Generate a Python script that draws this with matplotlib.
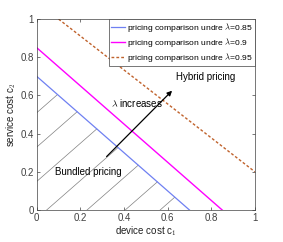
import matplotlib
matplotlib.use('Agg')
import matplotlib.pyplot as plt
import numpy as np

plt.rcParams['font.family'] = ['Liberation Sans', 'DejaVu Sans']
plt.rcParams['mathtext.fontset'] = 'cm'

# boundary lines (x endpoints, y endpoints)
blue_x = [0, 0.7]
blue_y = [0.7, 0]
mag_x = [0, 0.85]
mag_y = [0.85, 0]
brown_x = [0.1, 1]
brown_y = [1, 0.2]

# hatch lines y = x + b, ending on the blue line
hatch_b = [0.51, 0.33, 0.15, -0.045, -0.23, -0.405, -0.565]

# arrow start/end
arrow_start = (0.32, 0.28)
arrow_end = (0.62, 0.625)

ticks = [0, 0.2, 0.4, 0.6, 0.8, 1]
tick_labels = ['0', '0.2', '0.4', '0.6', '0.8', '1']

fig = plt.figure(figsize=(2.83, 2.42), dpi=100)
ax = fig.add_axes([0.13, 0.132, 0.771, 0.789])

for b in hatch_b:
    x0 = max(0, -b)
    x1 = (0.7 - b) / 2
    ax.plot([x0, x1], [x0 + b, x1 + b], color='#808080', lw=0.5)

ax.plot(blue_x, blue_y, color='#6f80f2', lw=0.9,
        label=r'pricing comparison undre $\lambda$=0.85')
ax.plot(mag_x, mag_y, color='#ff00ff', lw=1.0,
        label=r'pricing comparison undre $\lambda$=0.9')
ax.plot(brown_x, brown_y, color='#c0622c', lw=1.0, dashes=(2, 1.5),
        label=r'pricing comparison undre $\lambda$=0.95')

ax.annotate('', xy=arrow_end, xytext=arrow_start,
            arrowprops=dict(arrowstyle='-|>', color='black', lw=0.9,
                            mutation_scale=7, shrinkA=0, shrinkB=0))

ax.text(0.64, 0.695, 'Hybrid pricing', fontsize=7, va='center')
ax.text(0.34, 0.56, r'$\lambda$ increases', fontsize=7, va='center')
ax.text(0.085, 0.2, 'Bundled pricing', fontsize=7, va='center')

ax.set_xlim(0, 1)
ax.set_ylim(0, 1)
ax.set_xticks(ticks)
ax.set_xticklabels(tick_labels)
ax.set_yticks(ticks)
ax.set_yticklabels(tick_labels)
ax.tick_params(direction='in', length=2.5, width=0.5, labelsize=7,
               top=True, right=True, pad=2, colors='#404040')
for s in ax.spines.values():
    s.set_linewidth(0.5)
    s.set_color('#404040')

ax.set_xlabel('device cost c$_1$', fontsize=7, labelpad=1, color='#202020')
ax.set_ylabel('service cost c$_2$', fontsize=7, labelpad=2, color='#202020')

leg = ax.legend(loc='upper right', fontsize=6.1, handlelength=1.7,
                handletextpad=0.2, borderpad=0.25, labelspacing=0.2,
                borderaxespad=0, fancybox=False, framealpha=1)
leg.get_frame().set_linewidth(0.5)
leg.get_frame().set_edgecolor('#404040')

plt.savefig('out.png', dpi=100)
